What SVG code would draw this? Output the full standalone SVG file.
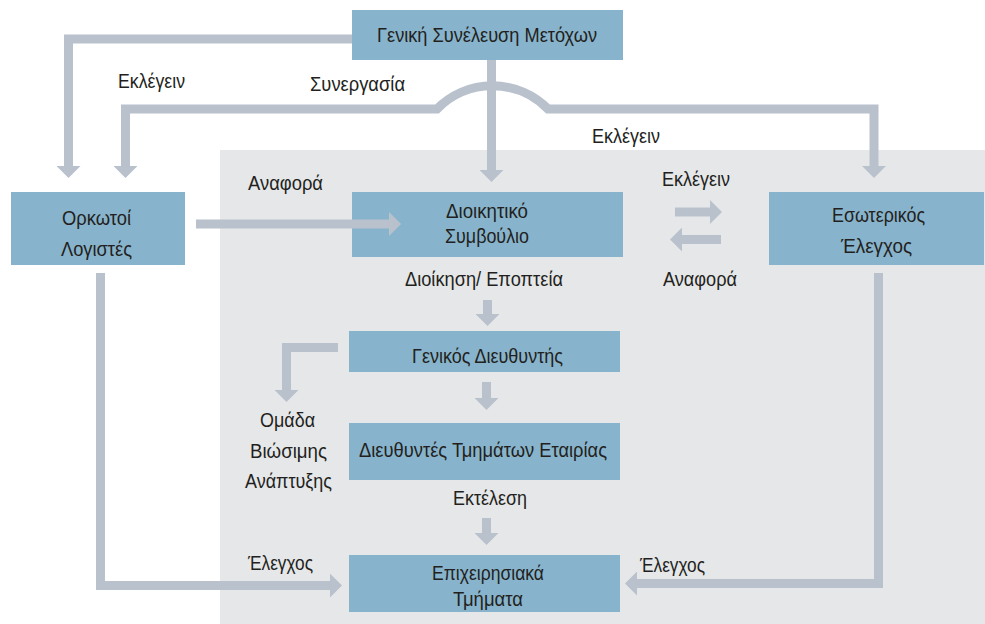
<svg xmlns="http://www.w3.org/2000/svg" width="985" height="624" viewBox="0 0 985 624">
<defs>
<style>
.bg{fill:#ffffff}
.panel{fill:#e6e7e9}
.box{fill:#87b4cc}
.t{font-family:"Liberation Sans",Arial,sans-serif;font-size:20px;fill:#231f20;text-anchor:middle}
.c{fill:none;stroke:#b9c1cd;stroke-width:9;stroke-linejoin:miter}
.a{marker-end:url(#ah)}
</style>
<marker id="ah" viewBox="0 -12 12 24" refX="0" refY="0" markerWidth="12" markerHeight="24" markerUnits="userSpaceOnUse" orient="auto-start-reverse">
<path d="M0,-12 L12,0 L0,12 Z" fill="#b9c1cd"/>
</marker>
</defs>
<rect class="bg" x="0" y="0" width="985" height="624"/>
<rect class="panel" x="220" y="150" width="765" height="474"/>

<g id="gsm">
<rect class="box" x="352" y="10" width="271" height="50"/>
<text class="t" x="487" y="42" textLength="220" lengthAdjust="spacingAndGlyphs">Γενική Συνέλευση Μετόχων</text>
</g>
<g id="orkotoi">
<rect class="box" x="11" y="192" width="174" height="73"/>
<text class="t" x="96.5" y="225" textLength="69" lengthAdjust="spacingAndGlyphs">Ορκωτοί</text>
<text class="t" x="96.5" y="256" textLength="71" lengthAdjust="spacingAndGlyphs">Λογιστές</text>
</g>
<g id="ds">
<rect class="box" x="352" y="192" width="271" height="65"/>
<text class="t" x="487" y="218" textLength="82" lengthAdjust="spacingAndGlyphs">Διοικητικό</text>
<text class="t" x="487" y="243" textLength="84" lengthAdjust="spacingAndGlyphs">Συμβούλιο</text>
</g>
<g id="esoterikos">
<rect class="box" x="769" y="192" width="215" height="73"/>
<text class="t" x="878.5" y="222" textLength="93" lengthAdjust="spacingAndGlyphs">Εσωτερικός</text>
<text class="t" x="876.5" y="253" textLength="71" lengthAdjust="spacingAndGlyphs">Έλεγχος</text>
</g>
<g id="gd">
<rect class="box" x="349" y="331" width="271" height="41"/>
<text class="t" x="487.5" y="363" textLength="151" lengthAdjust="spacingAndGlyphs">Γενικός Διευθυντής</text>
</g>
<g id="omada">
<text class="t" x="287.5" y="427" textLength="55" lengthAdjust="spacingAndGlyphs">Ομάδα</text>
<text class="t" x="288.5" y="458" textLength="77" lengthAdjust="spacingAndGlyphs">Βιώσιμης</text>
<text class="t" x="288.5" y="488" textLength="87" lengthAdjust="spacingAndGlyphs">Ανάπτυξης</text>
</g>
<g id="dte">
<rect class="box" x="349" y="423" width="271" height="57"/>
<text class="t" x="483" y="457" textLength="248" lengthAdjust="spacingAndGlyphs">Διευθυντές Τμημάτων Εταιρίας</text>
</g>
<g id="et">
<rect class="box" x="349" y="555" width="271" height="57"/>
<text class="t" x="488" y="580" textLength="112" lengthAdjust="spacingAndGlyphs">Επιχειρησιακά</text>
<text class="t" x="488" y="606" textLength="70" lengthAdjust="spacingAndGlyphs">Τμήματα</text>
</g>

<g id="connectors">
<path class="c a" d="M352,39 H68.5 V166"/>
<path class="c a" d="M125.5,166 V109 H437 A78 78 0 0 1 548 109 H874 V166" marker-start="url(#ah)"/>
<path class="c a" d="M491.5,60 V170"/>
<path class="c a" d="M196,224 H389"/>
<path class="c a" d="M100.5,273 V585.5 H330"/>
<path class="c a" d="M878.5,273 V583.5 H637"/>
<path class="c a" d="M675,212 H710"/>
<path class="c a" d="M721,239.5 H682"/>
<path class="c a" d="M487.5,300 V314"/>
<path class="c a" d="M486.5,382 V398"/>
<path class="c a" d="M486.5,518 V533"/>
<path class="c a" d="M338,347.5 H286.5 V390"/>
<text class="t" x="151.5" y="88" textLength="67" lengthAdjust="spacingAndGlyphs">Εκλέγειν</text>
<text class="t" x="357.5" y="91" textLength="95" lengthAdjust="spacingAndGlyphs">Συνεργασία</text>
<text class="t" x="626" y="143" textLength="68" lengthAdjust="spacingAndGlyphs">Εκλέγειν</text>
<text class="t" x="285.5" y="190" textLength="75" lengthAdjust="spacingAndGlyphs">Αναφορά</text>
<text class="t" x="696" y="186" textLength="68" lengthAdjust="spacingAndGlyphs">Εκλέγειν</text>
<text class="t" x="700" y="286" textLength="74" lengthAdjust="spacingAndGlyphs">Αναφορά</text>
<text class="t" x="484" y="286" textLength="158" lengthAdjust="spacingAndGlyphs">Διοίκηση/ Εποπτεία</text>
<text class="t" x="490" y="505" textLength="74" lengthAdjust="spacingAndGlyphs">Εκτέλεση</text>
<text class="t" x="280.5" y="570" textLength="65" lengthAdjust="spacingAndGlyphs">Έλεγχος</text>
<text class="t" x="672.5" y="572" textLength="65" lengthAdjust="spacingAndGlyphs">Έλεγχος</text>
</g>
</svg>
